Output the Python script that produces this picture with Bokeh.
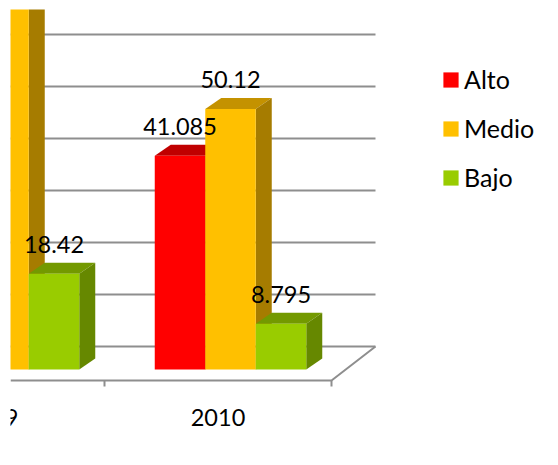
from bokeh.plotting import figure
from bokeh.models import Range1d, Legend, LegendItem
from bokeh.core.properties import value
from bokeh.embed import file_html
from bokeh.resources import INLINE

# ---- data ----
years = [2009, 2010]
series = ["Alto", "Medio", "Bajo"]
alto = [40.0, 41.085]
medio = [72.0, 50.12]
bajo = [18.42, 8.795]
grid_values = [0, 10, 20, 30, 40, 50, 60]
# labels of bars that lie inside the visible crop
show_label = {"Alto": [False, True], "Medio": [False, True], "Bajo": [True, True]}

# ---- styles ----
front = {"Alto": "#FF0000", "Medio": "#FFC000", "Bajo": "#99CC00"}
top = {"Alto": "#C00000", "Medio": "#C49200", "Bajo": "#739900"}
side = {"Alto": "#A00000", "Medio": "#A67C00", "Bajo": "#668800"}
FONT = "Lato"
GRID_COLOR = "#8E8E8E"

PX_X = 227.0        # pixels per year
PX_Y = 5.2          # pixels per value unit
W, H = 550, 457
LEFT, TOP = 10, 9
ORIGIN_X = 217.5 - LEFT   # frame px of year 2010
ORIGIN_Y = 369 - TOP      # frame px of value 0

x0 = 2010 - ORIGIN_X / PX_X
x1 = x0 + (W - LEFT) / PX_X
y1 = ORIGIN_Y / PX_Y
y0 = y1 - (H - TOP) / PX_Y

p = figure(width=W, height=H, output_backend="svg", toolbar_location=None,
           x_range=Range1d(x0, x1), y_range=Range1d(y0, y1),
           x_axis_location=None, y_axis_location=None,
           min_border_left=LEFT, min_border_top=TOP, min_border_right=0, min_border_bottom=0,
           outline_line_color=None, background_fill_color="white", border_fill_color="white")
p.grid.visible = False

def dx(px):
    return px / PX_X

def dy(px):
    return px / PX_Y

BAR_W = dx(50.5)
GROUP_SHIFT = dx(12.5)
DEPTH_X, DEPTH_Y = dx(16), dy(11)
FLOOR_BACK_Y = dy(23)
FLOOR_FRONT_Y = -dy(11)
FLOOR_BACK_X = dx(44)
TICK = dy(6)

# back walls' gridlines
p.segment(x0=[x0] * len(grid_values), x1=[years[-1] + 0.5 + FLOOR_BACK_X] * len(grid_values),
          y0=[v + FLOOR_BACK_Y for v in grid_values], y1=[v + FLOOR_BACK_Y for v in grid_values],
          line_color=GRID_COLOR, line_width=2)

# floor edge and category axis
edge = years[-1] + 0.5
p.line([x0, edge, edge + FLOOR_BACK_X], [FLOOR_FRONT_Y, FLOOR_FRONT_Y, FLOOR_BACK_Y],
       line_color=GRID_COLOR, line_width=2)
boundaries = [y + 0.5 for y in years]
p.segment(x0=boundaries, x1=boundaries, y0=[FLOOR_FRONT_Y] * 2, y1=[FLOOR_FRONT_Y - TICK] * 2,
          line_color=GRID_COLOR, line_width=2)

# 3-D bars
values = {"Alto": alto, "Medio": medio, "Bajo": bajo}
legend_items = []
for i, name in enumerate(series):
    vals = values[name]
    lefts = [y + GROUP_SHIFT + (i - 1.5) * BAR_W for y in years]
    rights = [l + BAR_W for l in lefts]
    p.patches([[l, r, r + DEPTH_X, l + DEPTH_X] for l, r in zip(lefts, rights)],
              [[v, v, v + DEPTH_Y, v + DEPTH_Y] for v in vals],
              fill_color=top[name], line_color=None)
    p.patches([[r, r + DEPTH_X, r + DEPTH_X, r] for r in rights],
              [[0, DEPTH_Y, v + DEPTH_Y, v] for v in vals],
              fill_color=side[name], line_color=None)
    r = p.quad(left=lefts, right=rights, bottom=[0, 0], top=vals,
               fill_color=front[name], line_color=None)
    legend_items.append(LegendItem(label=name, renderers=[r]))

# data labels (after all bars so they sit on top)
for i, name in enumerate(series):
    vals = values[name]
    xs = [y + GROUP_SHIFT + (i - 1) * BAR_W for y in years]
    keep = [k for k, f in enumerate(show_label[name]) if f]
    p.text([xs[k] for k in keep], [vals[k] for k in keep],
           text=[str(vals[k]) for k in keep],
           text_font=value(FONT), text_font_size="23.5px", text_color="#000000",
           text_align="center", text_baseline="alphabetic", y_offset=-29)

# category labels
p.text(years, [-dy(48)] * len(years), text=[str(y) for y in years],
       text_font=value(FONT), text_font_size="23.5px", text_color="#000000",
       text_align="center", text_baseline="alphabetic")

legend = Legend(items=legend_items, location=(431, 265), orientation="vertical",
                border_line_color=None, background_fill_alpha=0,
                glyph_width=19, glyph_height=19, label_standoff=4, spacing=19,
                margin=0, padding=0, label_height=29,
                label_text_font=FONT, label_text_font_size="25px", label_text_color="#000000")
p.add_layout(legend)

open("out.html", "w").write(file_html(p, INLINE))
